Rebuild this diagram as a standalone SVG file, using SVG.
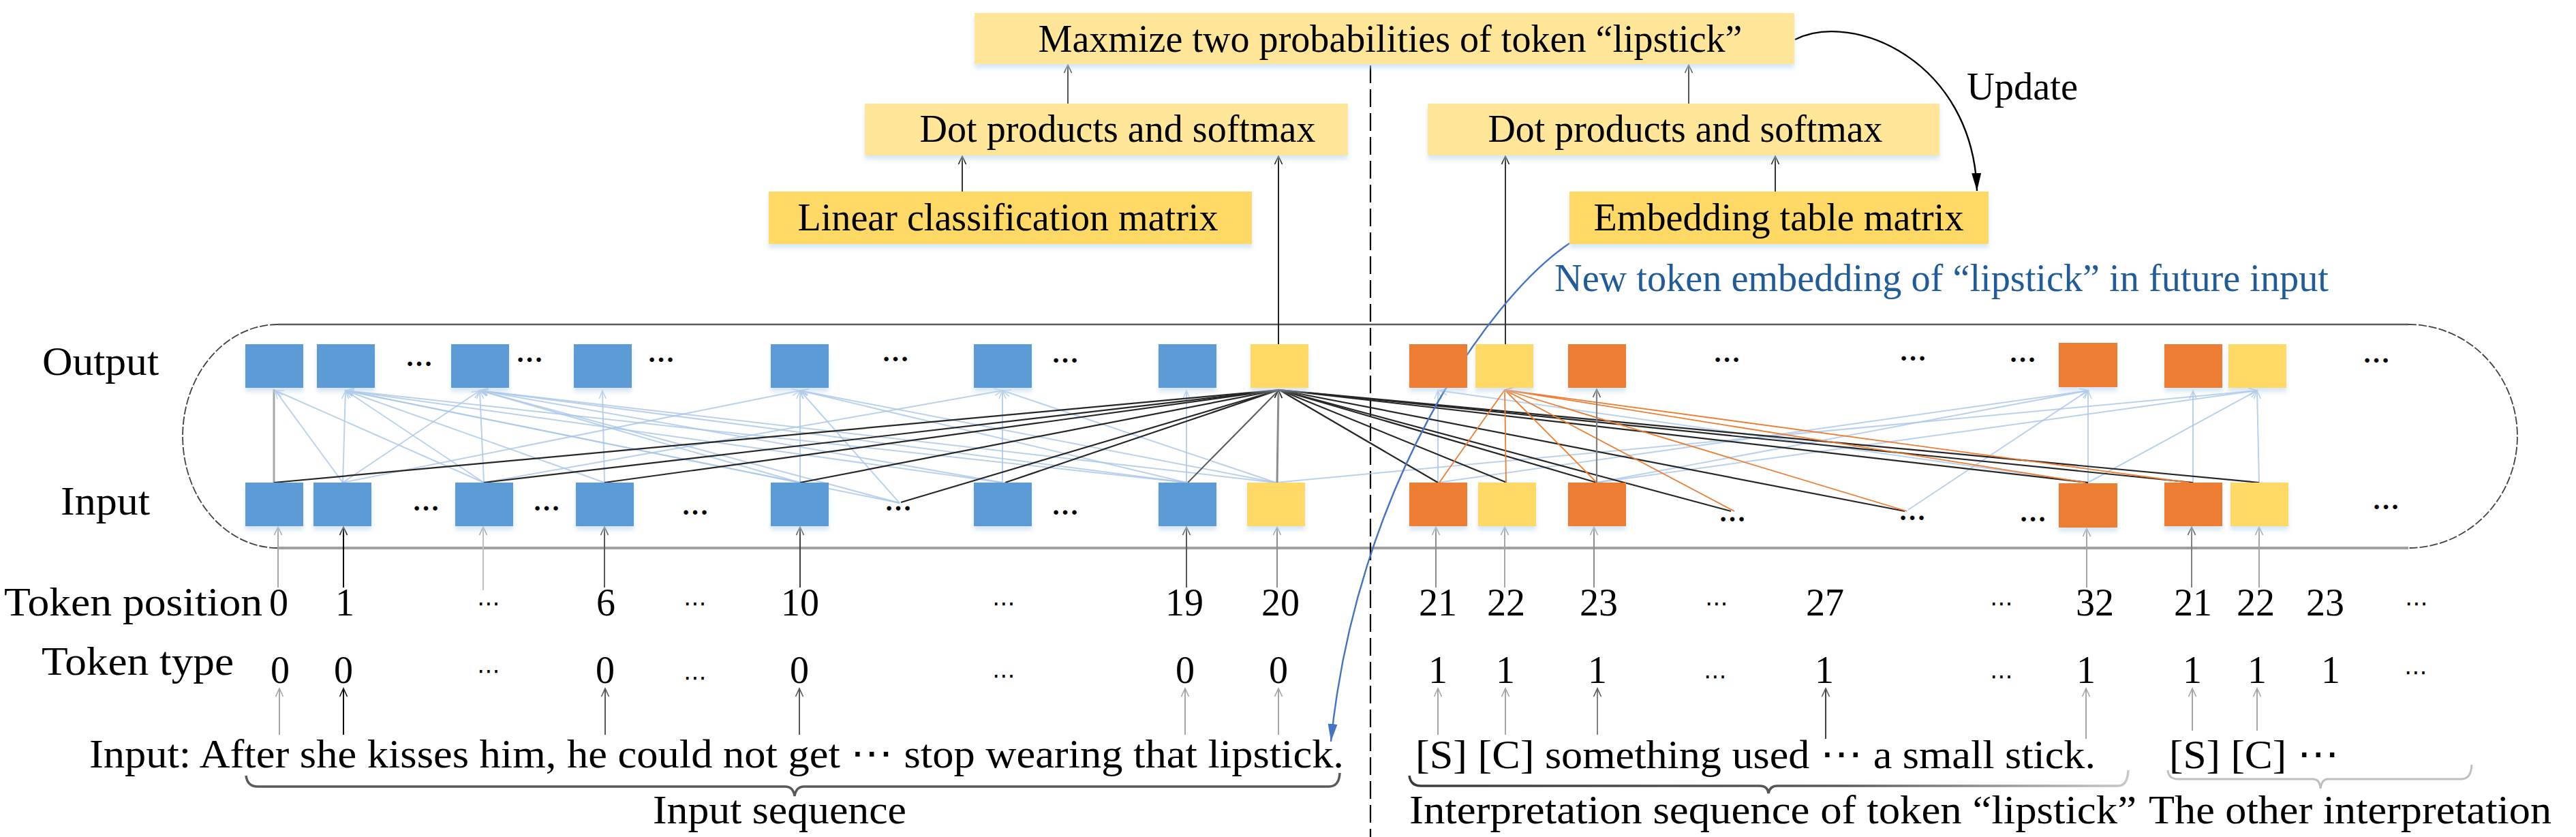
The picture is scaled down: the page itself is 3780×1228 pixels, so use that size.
<svg xmlns="http://www.w3.org/2000/svg" width="3780" height="1228" viewBox="0 0 3780 1228">
<style>
.s{font-family:"Liberation Serif","Times New Roman",serif;fill:#000}
.big{font-size:56px}
.lab{font-size:60px}
.num{font-size:56px;text-anchor:middle}
.el{font-family:"DejaVu Sans",sans-serif;font-size:34px;text-anchor:middle;fill:#000}
.dots{font-family:"Liberation Serif",serif;font-size:40px;font-weight:bold;text-anchor:middle;fill:#000}
.bl{fill:#FFE699}
.bd{fill:#FFD966}
.nb{fill:#5B9BD5}
.no{fill:#ED7D31}
.ny{fill:#FFD966}
.lb{stroke:#A9C6E8;stroke-width:2;fill:none;opacity:.8;marker-end:url(#mB)}
.lk{stroke:#262626;stroke-width:2.2;fill:none}
.lo{stroke:#ED7D31;stroke-width:1.8;fill:none}
.ar{fill:none;stroke-width:2}
</style>
<defs>
<filter id="sh" x="-10%" y="-20%" width="120%" height="160%">
<feDropShadow dx="0" dy="6" stdDeviation="3" flood-color="#BDD7EE" flood-opacity="0.6"/>
</filter>
<marker id="mK" markerUnits="userSpaceOnUse" markerWidth="16" markerHeight="14" refX="14" refY="7" orient="auto" viewBox="0 0 16 14"><path d="M2,1.5 L14,7 L2,12.5" fill="none" stroke="#1a1a1a" stroke-width="1.6"/></marker>
<marker id="mD" markerUnits="userSpaceOnUse" markerWidth="16" markerHeight="14" refX="14" refY="7" orient="auto" viewBox="0 0 16 14"><path d="M2,1.5 L14,7 L2,12.5" fill="none" stroke="#595959" stroke-width="1.6"/></marker>
<marker id="mG" markerUnits="userSpaceOnUse" markerWidth="16" markerHeight="14" refX="14" refY="7" orient="auto" viewBox="0 0 16 14"><path d="M2,1.5 L14,7 L2,12.5" fill="none" stroke="#a6a6a6" stroke-width="1.6"/></marker>
<marker id="mB" markerUnits="userSpaceOnUse" markerWidth="16" markerHeight="14" refX="14" refY="7" orient="auto" viewBox="0 0 16 14"><path d="M2,2 L14,7 L2,12" fill="none" stroke="#A9C6E8" stroke-width="1.5"/></marker>
<marker id="mO" markerUnits="userSpaceOnUse" markerWidth="16" markerHeight="14" refX="14" refY="7" orient="auto" viewBox="0 0 16 14"><path d="M2,2 L14,7 L2,12" fill="none" stroke="#ED7D31" stroke-width="1.5"/></marker>
<marker id="mF" markerUnits="userSpaceOnUse" markerWidth="28" markerHeight="14" refX="26" refY="7" orient="auto" viewBox="0 0 28 14"><path d="M0,0 L26,7 L0,14 Z" fill="#000"/></marker>
<marker id="mBl" markerUnits="userSpaceOnUse" markerWidth="28" markerHeight="14" refX="26" refY="7" orient="auto" viewBox="0 0 28 14"><path d="M0,0 L26,7 L0,14 Z" fill="#4472C4"/></marker>
<linearGradient id="gr1" x1="0" y1="0" x2="1" y2="0"><stop offset="0" stop-color="#3a3a3a"/><stop offset="0.6" stop-color="#5a5a5a"/><stop offset="1" stop-color="#c8c8c8"/></linearGradient>
</defs>
<rect width="3780" height="1228" fill="#fff"/>

<!-- container -->
<g id="container">
<path d="M408,476 H3534" stroke="#5a5a5a" stroke-width="2.5" fill="none"/>
<path d="M408,804 H3534" stroke="#a0a0a0" stroke-width="4" fill="none"/>
<path d="M408,476 A140,164 0 0 0 408,804" stroke="#404040" stroke-width="1.8" fill="none" stroke-dasharray="12 3"/>
<path d="M3534,476 A160,164 0 0 1 3534,804" stroke="#404040" stroke-width="1.8" fill="none" stroke-dasharray="12 3"/>
</g>

<!-- dashed separator -->
<line x1="2011" y1="96" x2="2011" y2="1228" stroke="#000" stroke-width="2.2" stroke-dasharray="26 9"/>

<g id="connectors">
<!-- light blue attention lines -->
<line class="lb" x1="503" y1="708" x2="404" y2="573"/>
<line class="lb" x1="710" y1="708" x2="404" y2="573"/>
<line class="lb" x1="503" y1="708" x2="507" y2="573"/>
<line class="lb" x1="710" y1="708" x2="507" y2="573"/>
<line class="lb" x1="887" y1="708" x2="507" y2="573"/>
<line class="lb" x1="1174" y1="708" x2="507" y2="573"/>
<line class="lb" x1="1320" y1="738" x2="507" y2="573"/>
<line class="lb" x1="1471" y1="708" x2="507" y2="573"/>
<line class="lb" x1="1741" y1="708" x2="507" y2="573"/>
<line class="lb" x1="503" y1="708" x2="704" y2="573"/>
<line class="lb" x1="710" y1="708" x2="704" y2="573"/>
<line class="lb" x1="1174" y1="708" x2="704" y2="573"/>
<line class="lb" x1="1320" y1="738" x2="704" y2="573"/>
<line class="lb" x1="1471" y1="708" x2="704" y2="573"/>
<line class="lb" x1="1741" y1="708" x2="704" y2="573"/>
<line class="lb" x1="1872" y1="708" x2="704" y2="573"/>
<line class="lb" x1="887" y1="708" x2="884" y2="573"/>
<line class="lb" x1="503" y1="708" x2="1174" y2="573"/>
<line class="lb" x1="710" y1="708" x2="1471" y2="573"/>
<line class="lb" x1="1174" y1="708" x2="1174" y2="573"/>
<line class="lb" x1="1320" y1="738" x2="1174" y2="573"/>
<line class="lb" x1="1741" y1="708" x2="1174" y2="573"/>
<line class="lb" x1="1872" y1="708" x2="1174" y2="573"/>
<line class="lb" x1="1471" y1="708" x2="1471" y2="573"/>
<line class="lb" x1="1872" y1="708" x2="1471" y2="573"/>
<line class="lb" x1="1741" y1="708" x2="1741" y2="573"/>
<line class="lb" x1="1872" y1="708" x2="3312" y2="573"/>
<line class="lb" x1="2110" y1="708" x2="2110" y2="573"/>
<line class="lb" x1="2110" y1="708" x2="3064" y2="573"/>
<line class="lb" x1="2343" y1="708" x2="3064" y2="573"/>
<line class="lb" x1="2343" y1="708" x2="3312" y2="573"/>
<line class="lb" x1="2800" y1="748" x2="3064" y2="573"/>
<line class="lb" x1="3064" y1="708" x2="3064" y2="573"/>
<line class="lb" x1="3218" y1="708" x2="3218" y2="573"/>
<line class="lb" x1="3315" y1="708" x2="3312" y2="573"/>
<line class="lb" x1="3064" y1="708" x2="3312" y2="573"/>
<line class="lb" x1="3064" y1="708" x2="2112" y2="573"/>

<!-- gray vertical on first token -->
<line x1="402" y1="708" x2="402" y2="571" stroke="#a6a6a6" stroke-width="3"/>

<!-- black lines converging on "lipstick" output -->
<line class="lk" x1="402" y1="708" x2="1877" y2="572"/>
<line class="lk" x1="710" y1="708" x2="1877" y2="572"/>
<line class="lk" x1="887" y1="708" x2="1877" y2="572"/>
<line class="lk" x1="1174" y1="708" x2="1877" y2="572"/>
<line class="lk" x1="1322" y1="737" x2="1877" y2="572"/>
<line class="lk" x1="1475" y1="708" x2="1877" y2="572"/>
<line x1="1743" y1="708" x2="1877" y2="572" stroke="#595959" stroke-width="2"/>
<line x1="1874" y1="708" x2="1876" y2="572" stroke="#8c8c8c" stroke-width="3" marker-end="url(#mK)"/>
<line class="lk" x1="2110" y1="708" x2="1877" y2="572"/>
<line class="lk" x1="2211" y1="708" x2="1877" y2="572"/>
<line class="lk" x1="2343" y1="708" x2="1877" y2="572"/>
<line class="lk" x1="2540" y1="750" x2="1877" y2="572"/>
<line class="lk" x1="2795" y1="750" x2="1877" y2="572"/>
<line class="lk" x1="3064" y1="708" x2="1877" y2="572"/>
<line class="lk" x1="3218" y1="708" x2="1877" y2="572"/>
<line class="lk" x1="3315" y1="708" x2="1877" y2="572"/>

<!-- orange lines converging on second "lipstick" output -->
<line class="lo" x1="2112" y1="708" x2="2208" y2="572"/>
<line class="lo" x1="2210" y1="708" x2="2208" y2="572"/>
<line class="lo" x1="2343" y1="708" x2="2208" y2="572"/>
<line class="lo" x1="2545" y1="750" x2="2208" y2="572"/>
<line class="lo" x1="2798" y1="750" x2="2208" y2="572"/>
<line class="lo" x1="3060" y1="708" x2="2208" y2="572"/>
<line class="lo" x1="3212" y1="708" x2="2208" y2="572" marker-end="url(#mO)"/>

<line x1="2343" y1="708" x2="2343" y2="571" stroke="#7f7f7f" stroke-width="2.2" marker-end="url(#mD)"/>

<!-- upward connectors to top boxes -->
<line class="ar" x1="1412" y1="283" x2="1412" y2="229" stroke="#333" marker-end="url(#mK)"/>
<line class="ar" x1="1567" y1="152" x2="1567" y2="95" stroke="#555" marker-end="url(#mD)"/>
<line class="ar" x1="1876" y1="505" x2="1876" y2="229" stroke="#222" marker-end="url(#mK)"/>
<line class="ar" x1="2478" y1="152" x2="2478" y2="95" stroke="#555" marker-end="url(#mD)"/>
<line class="ar" x1="2605" y1="283" x2="2605" y2="229" stroke="#333" marker-end="url(#mK)"/>
<line class="ar" x1="2209" y1="505" x2="2209" y2="229" stroke="#333" marker-end="url(#mK)"/>

<!-- update curve -->
<path d="M2634,58 C2720,15 2895,90 2901,280" fill="none" stroke="#000" stroke-width="2.4" marker-end="url(#mF)"/>
<!-- new embedding curve -->
<path d="M2303,357 C2180,440 1990,720 1953,1088" fill="none" stroke="#4472C4" stroke-width="2.4" marker-end="url(#mBl)"/>

<!-- token position -> input boxes -->
<line class="ar" x1="408" y1="862" x2="408" y2="773" stroke="#a6a6a6" marker-end="url(#mG)"/>
<line class="ar" x1="504" y1="862" x2="504" y2="773" stroke="#000" stroke-width="2.6" marker-end="url(#mK)"/>
<line class="ar" x1="709" y1="866" x2="709" y2="773" stroke="#bfbfbf" marker-end="url(#mG)"/>
<line class="ar" x1="887" y1="862" x2="887" y2="773" stroke="#595959" marker-end="url(#mD)"/>
<line class="ar" x1="1174" y1="862" x2="1174" y2="773" stroke="#404040" marker-end="url(#mD)"/>
<line class="ar" x1="1741" y1="862" x2="1741" y2="773" stroke="#595959" marker-end="url(#mD)"/>
<line class="ar" x1="1874" y1="862" x2="1874" y2="773" stroke="#8c8c8c" marker-end="url(#mG)"/>
<line class="ar" x1="2107" y1="862" x2="2107" y2="773" stroke="#8c8c8c" marker-end="url(#mG)"/>
<line class="ar" x1="2208" y1="862" x2="2208" y2="773" stroke="#a6a6a6" marker-end="url(#mG)"/>
<line class="ar" x1="2339" y1="862" x2="2339" y2="773" stroke="#8c8c8c" marker-end="url(#mG)"/>
<line class="ar" x1="3062" y1="862" x2="3062" y2="775" stroke="#a6a6a6" marker-end="url(#mG)"/>
<line class="ar" x1="3216" y1="862" x2="3216" y2="773" stroke="#7f7f7f" marker-end="url(#mD)"/>
<line class="ar" x1="3315" y1="862" x2="3315" y2="773" stroke="#a6a6a6" marker-end="url(#mG)"/>

<!-- sentence -> token type -->
<line class="ar" x1="410" y1="1078" x2="410" y2="1010" stroke="#a6a6a6" marker-end="url(#mG)"/>
<line class="ar" x1="504" y1="1078" x2="504" y2="1010" stroke="#000" stroke-width="2.6" marker-end="url(#mK)"/>
<line class="ar" x1="888" y1="1078" x2="888" y2="1010" stroke="#595959" marker-end="url(#mD)"/>
<line class="ar" x1="1173" y1="1078" x2="1173" y2="1010" stroke="#595959" marker-end="url(#mD)"/>
<line class="ar" x1="1739" y1="1078" x2="1739" y2="1010" stroke="#a6a6a6" marker-end="url(#mG)"/>
<line class="ar" x1="1876" y1="1078" x2="1876" y2="1010" stroke="#a6a6a6" marker-end="url(#mG)"/>
<line class="ar" x1="2110" y1="1078" x2="2110" y2="1010" stroke="#a6a6a6" marker-end="url(#mG)"/>
<line class="ar" x1="2209" y1="1078" x2="2209" y2="1010" stroke="#a6a6a6" marker-end="url(#mG)"/>
<line class="ar" x1="2344" y1="1078" x2="2344" y2="1010" stroke="#7f7f7f" marker-end="url(#mD)"/>
<line class="ar" x1="2679" y1="1084" x2="2679" y2="1010" stroke="#404040" marker-end="url(#mD)"/>
<line class="ar" x1="3061" y1="1084" x2="3061" y2="1010" stroke="#a6a6a6" marker-end="url(#mG)"/>
<line class="ar" x1="3217" y1="1072" x2="3217" y2="1010" stroke="#a6a6a6" marker-end="url(#mG)"/>
<line class="ar" x1="3312" y1="1072" x2="3312" y2="1010" stroke="#a6a6a6" marker-end="url(#mG)"/>

<!-- braces -->
<path d="M361,1138 Q363,1154 378,1154 H1152 Q1164,1154 1166,1168 Q1168,1154 1180,1154 H1950 Q1965,1154 1966,1134" fill="none" stroke="#595959" stroke-width="3.5"/>
<path d="M2068,1138 Q2070,1153 2085,1153 H2582 Q2594,1153 2595,1164 Q2597,1153 2608,1153 H3108 Q3122,1153 3123,1130" fill="none" stroke="url(#gr1)" stroke-width="3.5"/>
<path d="M3181,1130 Q3182,1143 3196,1143 H3394 Q3404,1143 3405,1157 Q3407,1143 3416,1143 H3612 Q3626,1143 3627,1122" fill="none" stroke="#bfbfbf" stroke-width="3"/>
</g>

<!-- top boxes -->
<g id="maximize" filter="url(#sh)"><rect class="bl" x="1430" y="19" width="1203" height="75"/>
<text class="s big" x="2040" y="76" text-anchor="middle" textLength="1033" lengthAdjust="spacingAndGlyphs">Maxmize two probabilities of token “lipstick”</text></g>
<g id="dot-left" filter="url(#sh)"><rect class="bl" x="1269" y="152" width="709" height="76"/>
<text class="s big" x="1640" y="208" text-anchor="middle" textLength="581" lengthAdjust="spacingAndGlyphs">Dot products and softmax</text></g>
<g id="dot-right" filter="url(#sh)"><rect class="bl" x="2095" y="152" width="751" height="76"/>
<text class="s big" x="2473" y="208" text-anchor="middle" textLength="579" lengthAdjust="spacingAndGlyphs">Dot products and softmax</text></g>
<g id="linear" filter="url(#sh)"><rect class="bd" x="1128" y="281" width="709" height="77"/>
<text class="s big" x="1479" y="338" text-anchor="middle" textLength="617" lengthAdjust="spacingAndGlyphs">Linear classification matrix</text></g>
<g id="embedding" filter="url(#sh)"><rect class="bd" x="2303" y="281" width="615" height="77"/>
<text class="s big" x="2610" y="338" text-anchor="middle" textLength="543" lengthAdjust="spacingAndGlyphs">Embedding table matrix</text></g>

<text class="s big" x="2886" y="146" textLength="163" lengthAdjust="spacingAndGlyphs">Update</text>
<text class="s big" x="2281" y="427" textLength="1136" lengthAdjust="spacingAndGlyphs" style="fill:#1F5C99">New token embedding of “lipstick” in future input</text>

<!-- row labels -->
<text class="s lab" x="62" y="550" textLength="171" lengthAdjust="spacingAndGlyphs">Output</text>
<text class="s lab" x="89" y="755" textLength="131" lengthAdjust="spacingAndGlyphs">Input</text>
<text class="s lab" x="6" y="903" textLength="379" lengthAdjust="spacingAndGlyphs">Token position</text>
<text class="s lab" x="61" y="990" textLength="282" lengthAdjust="spacingAndGlyphs">Token type</text>

<!-- output nodes -->
<g id="nodes-output" filter="url(#sh)">
<rect id="o0" class="nb" x="360" y="505" width="85" height="64"/>
<rect id="o1" class="nb" x="465" y="505" width="85" height="64"/>
<rect id="o6" class="nb" x="662" y="505" width="85" height="64"/>
<rect id="o10" class="nb" x="842" y="505" width="85" height="64"/>
<rect id="o-a" class="nb" x="1131" y="505" width="85" height="64"/>
<rect id="o-b" class="nb" x="1429" y="505" width="85" height="64"/>
<rect id="o19" class="nb" x="1700" y="505" width="85" height="64"/>
<rect id="o20" class="ny" x="1835" y="505" width="85" height="64"/>
<rect id="o21" class="no" x="2068" y="505" width="85" height="64"/>
<rect id="o22" class="ny" x="2165" y="505" width="85" height="64"/>
<rect id="o23" class="no" x="2301" y="505" width="85" height="64"/>
<rect id="o32" class="no" x="3021" y="503" width="86" height="65"/>
<rect id="o21b" class="no" x="3176" y="505" width="85" height="64"/>
<rect id="o22b" class="ny" x="3270" y="505" width="85" height="64"/>
</g>
<!-- input nodes -->
<g id="nodes-input" filter="url(#sh)">
<rect id="i0" class="nb" x="360" y="708" width="85" height="64"/>
<rect id="i1" class="nb" x="460" y="708" width="85" height="64"/>
<rect id="i6" class="nb" x="668" y="708" width="85" height="64"/>
<rect id="i10" class="nb" x="845" y="708" width="85" height="64"/>
<rect id="i-a" class="nb" x="1131" y="708" width="85" height="64"/>
<rect id="i-b" class="nb" x="1429" y="708" width="85" height="64"/>
<rect id="i19" class="nb" x="1700" y="708" width="85" height="64"/>
<rect id="i20" class="ny" x="1830" y="708" width="85" height="64"/>
<rect id="i21" class="no" x="2068" y="708" width="85" height="64"/>
<rect id="i22" class="ny" x="2169" y="708" width="85" height="64"/>
<rect id="i23" class="no" x="2301" y="708" width="85" height="64"/>
<rect id="i32" class="no" x="3021" y="709" width="86" height="65"/>
<rect id="i21b" class="no" x="3176" y="708" width="85" height="64"/>
<rect id="i22b" class="ny" x="3273" y="708" width="85" height="64"/>
</g>

<!-- ellipses inside container -->
<g id="ellipses">
<text class="dots" x="615" y="537">…</text>
<text class="dots" x="777" y="531">…</text>
<text class="dots" x="970" y="531">…</text>
<text class="dots" x="1314" y="530">…</text>
<text class="dots" x="1563" y="532">…</text>
<text class="dots" x="2534" y="531">…</text>
<text class="dots" x="2807" y="529">…</text>
<text class="dots" x="2968" y="531">…</text>
<text class="dots" x="3487" y="532">…</text>
<text class="dots" x="625" y="749">…</text>
<text class="dots" x="802" y="749">…</text>
<text class="dots" x="1020" y="755">…</text>
<text class="dots" x="1318" y="749">…</text>
<text class="dots" x="1563" y="755">…</text>
<text class="dots" x="2542" y="765">…</text>
<text class="dots" x="2806" y="763">…</text>
<text class="dots" x="2983" y="765">…</text>
<text class="dots" x="3501" y="747">…</text>
</g>

<!-- token positions -->
<g id="token-position">
<text class="s num" x="409" y="903">0</text>
<text class="s num" x="506" y="903">1</text>
<text class="el" x="717" y="897">⋯</text>
<text class="s num" x="889" y="903">6</text>
<text class="el" x="1020" y="897">⋯</text>
<text class="s num" x="1174" y="903">10</text>
<text class="el" x="1473" y="897">⋯</text>
<text class="s num" x="1738" y="903">19</text>
<text class="s num" x="1879" y="903">20</text>
<text class="s num" x="2110" y="903">21</text>
<text class="s num" x="2210" y="903">22</text>
<text class="s num" x="2346" y="903">23</text>
<text class="el" x="2519" y="897">⋯</text>
<text class="s num" x="2678" y="903">27</text>
<text class="el" x="2937" y="897">⋯</text>
<text class="s num" x="3074" y="903">32</text>
<text class="s num" x="3218" y="903">21</text>
<text class="s num" x="3310" y="903">22</text>
<text class="s num" x="3412" y="903">23</text>
<text class="el" x="3546" y="897">⋯</text>
</g>

<!-- token types -->
<g id="token-type">
<text class="s num" x="411" y="1002">0</text>
<text class="s num" x="504" y="1002">0</text>
<text class="el" x="717" y="996">⋯</text>
<text class="s num" x="888" y="1002">0</text>
<text class="el" x="1020" y="1006">⋯</text>
<text class="s num" x="1173" y="1002">0</text>
<text class="el" x="1473" y="1003">⋯</text>
<text class="s num" x="1739" y="1002">0</text>
<text class="s num" x="1876" y="1002">0</text>
<text class="s num" x="2110" y="1002">1</text>
<text class="s num" x="2209" y="1002">1</text>
<text class="s num" x="2344" y="1002">1</text>
<text class="el" x="2517" y="1004">⋯</text>
<text class="s num" x="2677" y="1002">1</text>
<text class="el" x="2937" y="1004">⋯</text>
<text class="s num" x="3061" y="1002">1</text>
<text class="s num" x="3217" y="1002">1</text>
<text class="s num" x="3312" y="1002">1</text>
<text class="s num" x="3420" y="1002">1</text>
<text class="el" x="3545" y="998">⋯</text>
</g>

<!-- sentences -->
<g id="sentences">
<text class="s lab" x="131" y="1126" textLength="1841" lengthAdjust="spacingAndGlyphs">Input: After she kisses him, he could not get ⋯ stop wearing that lipstick.</text>
<text class="s lab" x="958" y="1208" textLength="372" lengthAdjust="spacingAndGlyphs">Input sequence</text>
<text class="s lab" x="2077" y="1127" textLength="998" lengthAdjust="spacingAndGlyphs">[S] [C] something used ⋯ a small stick.</text>
<text class="s lab" x="2068" y="1208" textLength="1067" lengthAdjust="spacingAndGlyphs">Interpretation sequence of token “lipstick”</text>
<text class="s lab" x="3183" y="1127" textLength="249" lengthAdjust="spacingAndGlyphs">[S] [C] ⋯</text>
<text class="s lab" x="3153" y="1208" textLength="591" lengthAdjust="spacingAndGlyphs">The other interpretation</text>
</g>
</svg>
